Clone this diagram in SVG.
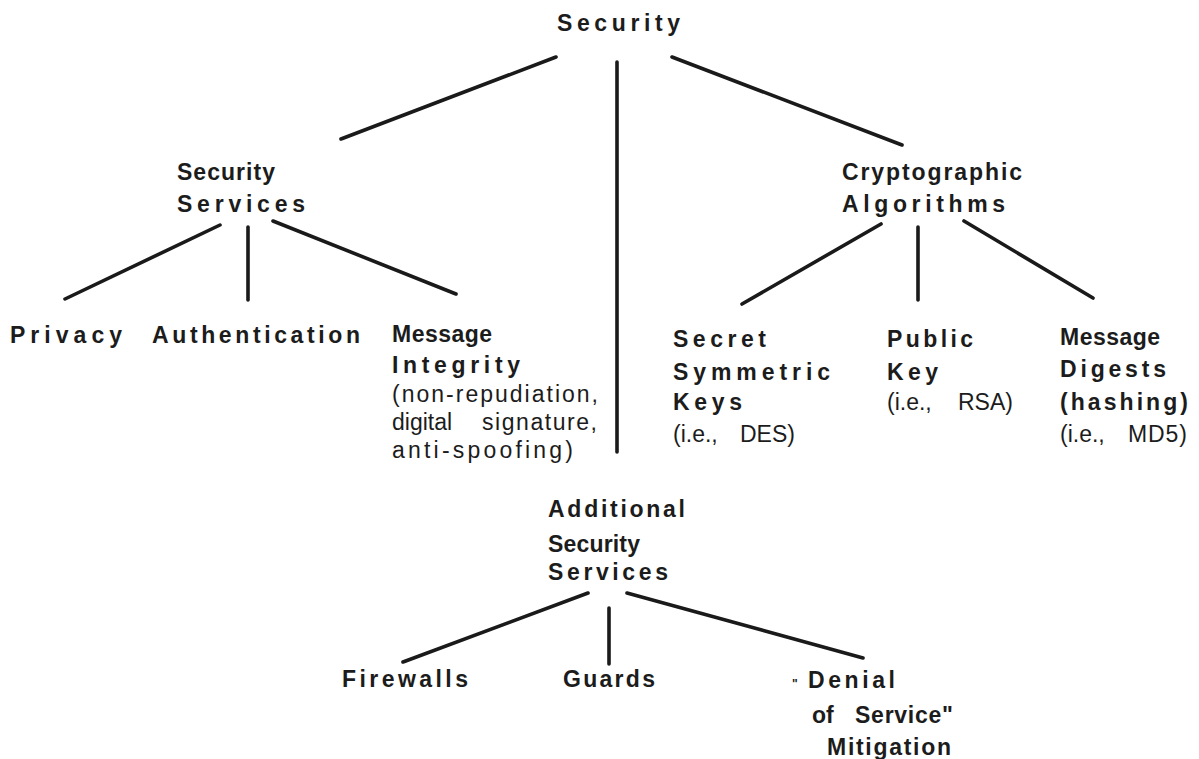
<svg xmlns="http://www.w3.org/2000/svg" width="1199" height="759" viewBox="0 0 1199 759">
  <style>
    text { font-family: "Liberation Sans", Arial, Helvetica, sans-serif; font-size: 23px; fill: #1c1c1c; }
    .b { font-weight: bold; }
    .r { font-weight: normal; }
    .edge { stroke: #1a1a1a; stroke-width: 3.6; stroke-linecap: round; fill: none; }
  </style>
  <rect width="1199" height="759" fill="#ffffff"/>

  <!-- tree branches -->
  <g id="connectors">
    <line class="edge" x1="556" y1="57" x2="341" y2="139"/>
    <line class="edge" x1="617" y1="62" x2="617" y2="452"/>
    <line class="edge" x1="672" y1="57" x2="902" y2="145"/>

    <line class="edge" x1="220" y1="225" x2="65" y2="299"/>
    <line class="edge" x1="248" y1="227" x2="248" y2="300"/>
    <line class="edge" x1="273" y1="221" x2="456" y2="294"/>

    <line class="edge" x1="881" y1="224" x2="742" y2="304"/>
    <line class="edge" x1="918" y1="227" x2="918" y2="300"/>
    <line class="edge" x1="964" y1="221" x2="1093" y2="298"/>

    <line class="edge" x1="588" y1="593" x2="403" y2="662"/>
    <line class="edge" x1="609" y1="608" x2="609" y2="664"/>
    <line class="edge" x1="627" y1="593" x2="863" y2="658"/>
  </g>

  <g id="security">
    <text class="b" x="557" y="31" textLength="123" lengthAdjust="spacing">Security</text>
  </g>

  <g id="security-services">
    <text class="b" x="177" y="180" textLength="98" lengthAdjust="spacing">Security</text>
    <text class="b" x="177" y="212" textLength="128" lengthAdjust="spacing">Services</text>
  </g>

  <g id="privacy">
    <text class="b" x="10" y="343" textLength="112" lengthAdjust="spacing">Privacy</text>
  </g>

  <g id="authentication">
    <text class="b" x="152" y="343" textLength="208" lengthAdjust="spacing">Authentication</text>
  </g>

  <g id="message-integrity">
    <text class="b" x="392" y="342" textLength="100" lengthAdjust="spacing">Message</text>
    <text class="b" x="392" y="373" textLength="128" lengthAdjust="spacing">Integrity</text>
    <text class="r" x="392" y="402" textLength="206" lengthAdjust="spacing">(non-repudiation,</text>
    <text class="r" y="430"><tspan x="392">digital</tspan><tspan x="482" textLength="115" lengthAdjust="spacing">signature,</tspan></text>
    <text class="r" x="392" y="458" textLength="181" lengthAdjust="spacing">anti-spoofing)</text>
  </g>

  <g id="cryptographic-algorithms">
    <text class="b" x="842" y="180" textLength="180" lengthAdjust="spacing">Cryptographic</text>
    <text class="b" x="842" y="212" textLength="163" lengthAdjust="spacing">Algorithms</text>
  </g>

  <g id="secret-symmetric-keys">
    <text class="b" x="673" y="347" textLength="93" lengthAdjust="spacing">Secret</text>
    <text class="b" x="673" y="380" textLength="157" lengthAdjust="spacing">Symmetric</text>
    <text class="b" x="673" y="410" textLength="69" lengthAdjust="spacing">Keys</text>
    <text class="r" y="442"><tspan x="673">(i.e.,</tspan><tspan x="740">DES)</tspan></text>
  </g>

  <g id="public-key">
    <text class="b" x="887" y="347" textLength="86" lengthAdjust="spacing">Public</text>
    <text class="b" x="887" y="380" textLength="51" lengthAdjust="spacing">Key</text>
    <text class="r" y="410"><tspan x="887">(i.e.,</tspan><tspan x="958">RSA)</tspan></text>
  </g>

  <g id="message-digests">
    <text class="b" x="1060" y="345" textLength="100" lengthAdjust="spacing">Message</text>
    <text class="b" x="1060" y="377" textLength="106" lengthAdjust="spacing">Digests</text>
    <text class="b" x="1060" y="410" textLength="128" lengthAdjust="spacing">(hashing)</text>
    <text class="r" y="442"><tspan x="1060">(i.e.,</tspan><tspan x="1128" textLength="59" lengthAdjust="spacing">MD5)</tspan></text>
  </g>

  <g id="additional-security-services">
    <text class="b" x="548" y="517" textLength="137" lengthAdjust="spacing">Additional</text>
    <text class="b" x="548" y="552" textLength="92" lengthAdjust="spacing">Security</text>
    <text class="b" x="548" y="580" textLength="120" lengthAdjust="spacing">Services</text>
  </g>

  <g id="firewalls">
    <text class="b" x="342" y="687" textLength="126" lengthAdjust="spacing">Firewalls</text>
  </g>

  <g id="guards">
    <text class="b" x="563" y="687" textLength="92" lengthAdjust="spacing">Guards</text>
  </g>

  <g id="denial-of-service-mitigation">
    <text class="b" y="688"><tspan x="792" style="font-size:12px">"</tspan><tspan x="808" textLength="87" lengthAdjust="spacing">Denial</tspan></text>
    <text class="b" y="723"><tspan x="812">of</tspan><tspan x="855" textLength="98" lengthAdjust="spacing">Service"</tspan></text>
    <text class="b" x="827" y="755" textLength="124" lengthAdjust="spacing">Mitigation</text>
  </g>
</svg>
